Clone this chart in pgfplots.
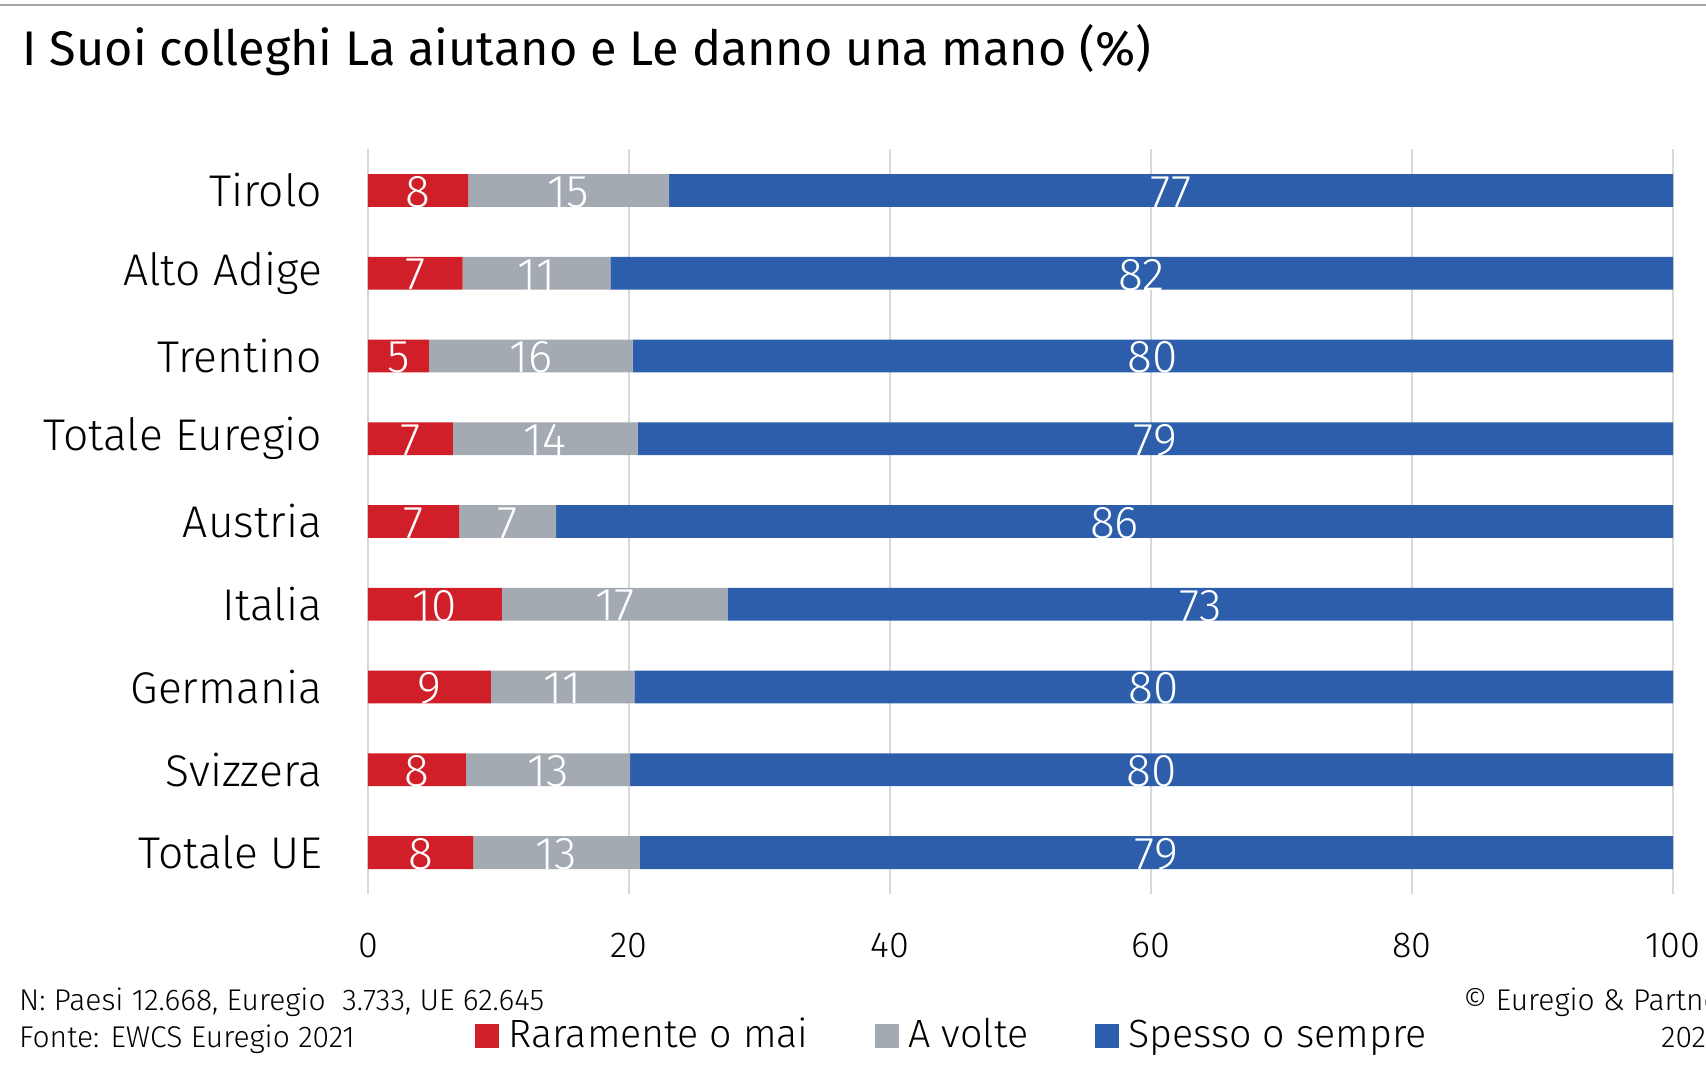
\documentclass[border=0pt]{standalone}
\usepackage{fontspec}
\setmainfont{Fira Sans Light}
\newfontfamily\titlefont{Fira Sans}
\usepackage{pgfplots}
\pgfplotsset{compat=1.18}
\usepackage{pgfplotstable}

\definecolor{cRed}{HTML}{D01F29}
\definecolor{cGray}{HTML}{A3AAB2}
\definecolor{cBlue}{HTML}{2C5EAC}
\definecolor{cGrid}{HTML}{D9D9D9}
\definecolor{cTop}{HTML}{A6A6A6}

\pgfplotstableread{
y r g b
0 7.67 15.40 76.93
1 7.25 11.33 81.42
2 4.67 15.60 79.73
3 6.50 14.17 79.33
4 7.00 7.42 85.58
5 10.25 17.33 72.42
6 9.42 11.00 79.58
7 7.50 12.58 79.92
8 8.08 12.75 79.17
}\bars

\pgfplotstableread{
x y l
3.835 0 8
15.37 0 15
61.535 0 77
3.625 1 7
12.915 1 11
59.29 1 82
2.335 2 5
12.47 2 16
60.135 2 80
3.25 3 7
13.585 3 14
60.335 3 79
3.5 4 7
10.71 4 7
57.21 4 86
5.125 5 10
18.915 5 17
63.79 5 73
4.71 6 9
14.92 6 11
60.21 6 80
3.75 7 8
13.79 7 13
60.04 7 80
4.04 8 8
14.455 8 13
60.415 8 79
}\labels

\pgfplotsset{base/.style={
  width=326.25pt, height=186.25pt, scale only axis,
  at={(92pt,-223.5pt)}, anchor=south west,
  xmin=0, xmax=100, ymin=-0.5, ymax=8.5, y dir=reverse,
}}

\begin{document}
\begin{tikzpicture}
\draw[cTop, line width=0.5pt] (0pt,-1.35pt) -- (426.5pt,-1.35pt);
\node[anchor=base west, inner sep=0pt, font=\titlefont\fontsize{12.15}{15}\selectfont] at (5.5pt,-16.3pt) {I Suoi colleghi La aiutano e Le danno una mano (\%)};

\begin{axis}[base,
  axis line style={draw=none},
  major tick length=0pt,
  xtick={0,20,...,100},
  ytick={0,...,8},
  yticklabels={Tirolo,Alto Adige,Trentino,Totale Euregio,Austria,Italia,Germania,Svizzera,Totale UE},
  xmajorgrids, ymajorgrids=false,
  grid style={cGrid, line width=0.6pt},
  /pgf/number format/assume math mode=true,
  xticklabel style={font=\fontsize{9}{11}\selectfont, yshift=-6.2pt},
  yticklabel style={font=\fontsize{11.1}{13}\selectfont, xshift=-8pt},
  xbar stacked, bar width=8.2pt,
  legend style={at={(0.082,-0.1906)}, anchor=west, draw=none, fill=none, inner sep=0pt, outer sep=0pt,
    font=\fontsize{9.85}{12}\selectfont, legend columns=3,
    nodes={inner sep=0pt}, cells={anchor=base west},
    /tikz/every odd column/.style={column sep=2.4pt},
    /tikz/every even column/.style={column sep=16.6pt}},
  legend image code/.code={\fill[#1] (0pt,0pt) rectangle (6pt,6pt);},
]
\addplot[fill=cRed, draw=none] table[x=r, y=y] {\bars};
\addlegendentry{Raramente o mai}
\addplot[fill=cGray, draw=none] table[x=g, y=y] {\bars};
\addlegendentry{A volte}
\addplot[fill=cBlue, draw=none] table[x=b, y=y] {\bars};
\addlegendentry{Spesso o sempre}
\end{axis}

\begin{axis}[base, hide axis]
\addplot[draw=none, nodes near coords, point meta=explicit symbolic,
  every node near coord/.append style={anchor=center, text=white, inner sep=0pt, yshift=-0.4pt,
    font=\fontsize{11.5}{13}\selectfont}]
  table[x=x, y=y, meta=l] {\labels};
\end{axis}

\node[anchor=base west, inner sep=0pt, font=\fontsize{7.5}{9}\selectfont] at (4.6pt,-252.75pt) {N: Paesi 12.668, Euregio\ \ 3.733, UE 62.645};
\node[anchor=base west, inner sep=0pt, font=\fontsize{7.5}{9}\selectfont] at (4.6pt,-262pt) {Fonte: EWCS Euregio 2021};
\node[anchor=base west, inner sep=0pt, font=\fontsize{7.5}{9}\selectfont] at (365.6pt,-252.75pt) {\char"00A9\ Euregio \& Partner};
\node[anchor=base east, inner sep=0pt, font=\fontsize{7.5}{9}\selectfont] at (429.6pt,-262pt) {2021};

\pgfresetboundingbox
\useasboundingbox (0pt,0pt) rectangle (426.5pt,-269.5pt);
\end{tikzpicture}
\end{document}
